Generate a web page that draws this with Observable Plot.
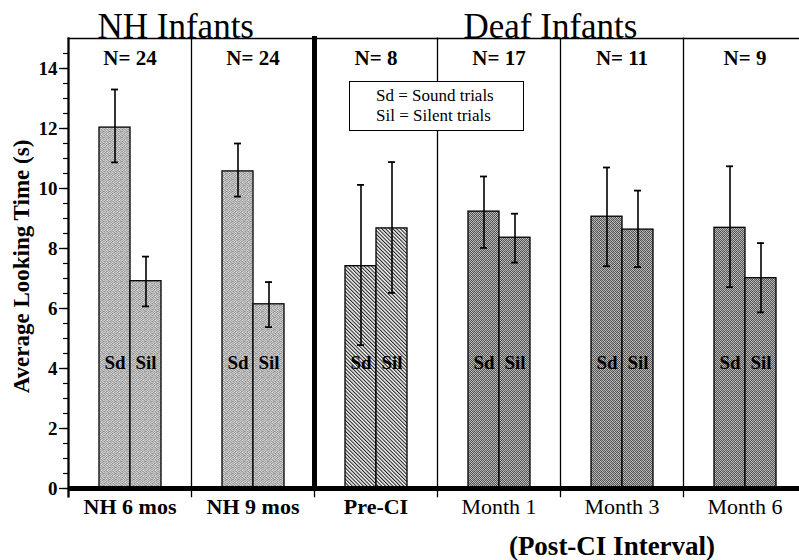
<!DOCTYPE html>
<html><head><meta charset="utf-8">
<script src="https://cdn.jsdelivr.net/npm/d3@7"></script>
<script src="https://cdn.jsdelivr.net/npm/@observablehq/plot@0.6"></script>
<style>
html,body{margin:0;padding:0;background:#fff;}
#wrap{position:relative;width:799px;height:560px;overflow:hidden;}
#wrap svg text{font-family:"Liberation Serif","Times New Roman",serif;}
#legend{position:absolute;left:349px;top:81px;width:175px;height:50px;box-sizing:border-box;border:1.5px solid #000;background:#fff;font-family:"Liberation Serif","Times New Roman",serif;font-size:17px;line-height:20px;padding:4px 0 0 26px;color:#000;}
</style></head><body>
<div id="wrap"><div id="legend"><div>Sd = Sound trials</div><div>Sil = Silent trials</div></div></div>
<script>
// ---- data ----
const groups = ["NH 6 mos", "NH 9 mos", "Pre-CI", "Month 1", "Month 3", "Month 6"];
const trials = ["Sd", "Sil"];
const nLabels = [24, 24, 8, 17, 11, 9];
const sdMean  = [12.03, 10.57, 7.41, 9.23, 9.06, 8.69];
const sdLow   = [10.87,  9.73, 4.78, 8.02, 7.41, 6.71];
const sdHigh  = [13.30, 11.50, 10.12, 10.40, 10.70, 10.74];
const silMean = [6.91, 6.14, 8.67, 8.36, 8.63, 7.01];
const silLow  = [6.07, 5.38, 6.52, 7.53, 7.38, 5.87];
const silHigh = [7.73, 6.88, 10.88, 9.16, 9.93, 8.18];
const yTicks = [0, 2, 4, 6, 8, 10, 12, 14];
const yMinorTicks = d3.range(0, 15, 0.5);
const groupTitles = ["NH Infants", "Deaf Infants"];
const yLabel = "Average Looking Time (s)";
const xNote = "(Post-CI Interval)";

// ---- table for Plot ----
const rows = [];
groups.forEach((g, i) => {
  rows.push({g, trial: "Sd", mean: sdMean[i], lo: sdLow[i], hi: sdHigh[i]});
  rows.push({g, trial: "Sil", mean: silMean[i], lo: silLow[i], hi: silHigh[i]});
});
const texture = g => g.startsWith("NH") ? "url(#noise)" : g === "Pre-CI" ? "url(#hatch)" : "url(#checker)";
const font = '"Liberation Serif", "Times New Roman", serif';
const boldGroups = groups.filter(g => !g.startsWith("Month"));
const plainGroups = groups.filter(g => g.startsWith("Month"));
const T = {fill: "black", fontFamily: font};

const chart = Plot.plot({
  width: 799, height: 560,
  marginTop: 38, marginBottom: 72, marginLeft: 66, marginRight: -8,
  style: {fontFamily: font, background: "white", color: "black", overflow: "visible"},
  fx: {domain: groups, padding: 0, axis: null},
  x: {domain: trials, paddingInner: 0, paddingOuter: 0.96, axis: null},
  y: {domain: [0, 15], axis: null},
  color: {type: "identity"},
  marks: [
    Plot.barY(rows, {fx: "g", x: "trial", y: "mean", fill: d => texture(d.g), stroke: "black", strokeWidth: 1.3}),
    Plot.text(rows, {fx: "g", x: "trial", y: () => 4.2, text: "trial", fontWeight: "bold", fontSize: 19, ...T}),
    Plot.ruleX(rows, {fx: "g", x: "trial", y1: "lo", y2: "hi", stroke: "black", strokeWidth: 1.6}),
    Plot.tickY(rows, {fx: "g", x: "trial", y: "hi", insetLeft: 12, insetRight: 12, stroke: "black", strokeWidth: 1.8}),
    Plot.tickY(rows, {fx: "g", x: "trial", y: "lo", insetLeft: 12, insetRight: 12, stroke: "black", strokeWidth: 1.8}),
    Plot.frame({anchor: "left", insetBottom: -8, stroke: "black", strokeWidth: 1.3}),
    Plot.frame({anchor: "top", stroke: "black", strokeWidth: 1.5}),
    Plot.frame({anchor: "left", fx: ["NH 6 mos"], insetBottom: -8, stroke: "black", strokeWidth: 2.2}),
    Plot.frame({anchor: "left", fx: ["Pre-CI"], stroke: "black", strokeWidth: 5}),
    Plot.ruleY([0], {stroke: "black", strokeWidth: 5}),
    Plot.axisY({ticks: yMinorTicks, tickSize: 5, tickFormat: () => "", label: null, stroke: "black", strokeWidth: 1.2}),
    Plot.axisY({ticks: yTicks, tickSize: 9, tickPadding: 2, fontSize: 19, fontWeight: "bold", label: null, stroke: "black", strokeWidth: 1.3, ...T}),
    Plot.text([yLabel], {fx: ["NH 6 mos"], text: d => d, frameAnchor: "left", textAnchor: "middle", rotate: -90, dx: -47, dy: 3, fontSize: 23, fontWeight: "bold", ...T}),
    Plot.text(groups, {fx: d => d, text: (d, i) => `N= ${nLabels[i]}`, frameAnchor: "top", lineAnchor: "bottom", dy: 26, fontSize: 21, fontWeight: "bold", ...T}),
    Plot.text(boldGroups, {fx: d => d, text: d => d, frameAnchor: "bottom", lineAnchor: "bottom", dy: 25, fontSize: 22, fontWeight: "bold", ...T}),
    Plot.text(plainGroups, {fx: d => d, text: d => d, frameAnchor: "bottom", lineAnchor: "bottom", dy: 25, fontSize: 22, ...T}),
    Plot.text([groupTitles[0]], {fx: ["NH 6 mos"], text: d => d, frameAnchor: "top-left", textAnchor: "start", lineAnchor: "bottom", dx: 29, dy: -1, fontSize: 35, ...T}),
    Plot.text([groupTitles[1]], {fx: ["Month 1"], text: d => d, frameAnchor: "top-left", textAnchor: "start", lineAnchor: "bottom", dx: 26, dy: -1, fontSize: 35, ...T}),
    Plot.text([xNote], {fx: ["Month 3"], text: d => d, frameAnchor: "bottom", lineAnchor: "bottom", dx: -10, dy: 66, fontSize: 27, fontWeight: "bold", ...T})
  ]
});

// ---- fill textures ----
const defs = d3.select(chart).insert("defs", ":first-child");
const noiseVals = [200,170,215,185,160,205, 180,225,150,195,210,175, 210,165,190,230,170,200, 155,205,180,160,215,185, 195,175,220,190,165,210, 170,215,160,205,185,150];
const noise = defs.append("pattern").attr("id", "noise").attr("patternUnits", "userSpaceOnUse").attr("width", 6).attr("height", 6);
noiseVals.forEach((v, k) => noise.append("rect").attr("x", k % 6).attr("y", Math.floor(k / 6)).attr("width", 1).attr("height", 1).attr("fill", d3.rgb(v - 8, v - 8, v - 8)));
const checkVals = [90,190,80,170, 180,70,200,95, 85,175,100,185, 195,90,165,75];
const checker = defs.append("pattern").attr("id", "checker").attr("patternUnits", "userSpaceOnUse").attr("width", 4).attr("height", 4);
checkVals.forEach((v, k) => checker.append("rect").attr("x", k % 4).attr("y", Math.floor(k / 4)).attr("width", 1).attr("height", 1).attr("fill", d3.rgb(v, v, v)));
const hatch = defs.append("pattern").attr("id", "hatch").attr("patternUnits", "userSpaceOnUse").attr("width", 2.6).attr("height", 2.6).attr("patternTransform", "rotate(-45)");
hatch.append("rect").attr("width", 2.6).attr("height", 2.6).attr("fill", "#f4f4f4");
hatch.append("rect").attr("width", 1.05).attr("height", 2.6).attr("fill", "#222");

document.getElementById("wrap").prepend(chart);
</script>
</body></html>
